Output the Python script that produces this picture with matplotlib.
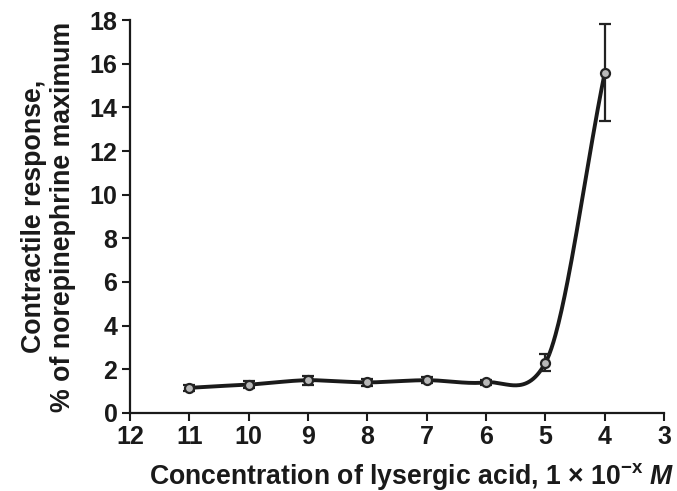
import numpy as np
import matplotlib
matplotlib.use("Agg")
import matplotlib.pyplot as plt

plt.rcParams['font.family'] = ['Liberation Sans', 'DejaVu Sans']
plt.rcParams['font.weight'] = 'bold'
plt.rcParams['mathtext.fontset'] = 'custom'
plt.rcParams['mathtext.rm'] = 'Liberation Sans:bold'
plt.rcParams['mathtext.it'] = 'Liberation Sans:bold:italic'
plt.rcParams['mathtext.bf'] = 'Liberation Sans:bold'

conc = [11, 10, 9, 8, 7, 6, 5, 4]
response = [1.15, 1.3, 1.5, 1.4, 1.5, 1.4, 2.3, 15.6]
errors = [0.15, 0.15, 0.2, 0.15, 0.15, 0.12, 0.4, 2.2]
xticks = [12, 11, 10, 9, 8, 7, 6, 5, 4, 3]
yticks = [0, 2, 4, 6, 8, 10, 12, 14, 16, 18]


def cardinal_spline(x, y, n_seg=60, tension=0.7):
    x = np.asarray(x, float); y = np.asarray(y, float)
    n = len(x)
    m = np.zeros(n)
    for i in range(n):
        if i == 0:
            m[i] = (y[1] - y[0]) / (x[1] - x[0])
        elif i == n - 1:
            m[i] = (y[-1] - y[-2]) / (x[-1] - x[-2])
        else:
            m[i] = tension * (y[i + 1] - y[i - 1]) / (x[i + 1] - x[i - 1])
    xs, ys = [], []
    for i in range(n - 1):
        h = x[i + 1] - x[i]
        t = np.linspace(0, 1, n_seg)
        h00 = 2 * t**3 - 3 * t**2 + 1
        h10 = t**3 - 2 * t**2 + t
        h01 = -2 * t**3 + 3 * t**2
        h11 = t**3 - t**2
        xs.append(x[i] + t * h)
        ys.append(h00 * y[i] + h10 * h * m[i] + h01 * y[i + 1] + h11 * h * m[i + 1])
    return np.concatenate(xs), np.concatenate(ys)

xx, yy = cardinal_spline(conc[::-1], response[::-1])

fig = plt.figure(figsize=(6.77, 4.91), dpi=100)
ax = fig.add_axes([0.192, 0.159, 0.789, 0.8])

ax.plot(xx, yy, color='#1a1a1a', lw=2.8, zorder=2, solid_capstyle='round')
ax.errorbar(conc, response, yerr=errors, fmt='none', ecolor='#222222',
            elinewidth=1.6, capsize=4.5, capthick=1.6, zorder=3)
ax.plot(conc, response, 'o', ms=6.5, mfc='#b8b8b8', mec='#222222', mew=1.6, zorder=4)

ax.set_xlim(12, 3)
ax.set_ylim(0, 18)
ax.set_xticks(xticks)
ax.set_yticks(yticks)
ax.spines['top'].set_visible(False)
ax.spines['right'].set_visible(False)
ax.spines['left'].set_linewidth(1.6)
ax.spines['bottom'].set_linewidth(1.6)
ax.spines['left'].set_color('#1a1a1a')
ax.spines['bottom'].set_color('#1a1a1a')
ax.tick_params(axis='both', direction='out', length=6, width=1.5, labelsize=18,
               pad=3, colors='#1a1a1a')
for lab in ax.get_xticklabels() + ax.get_yticklabels():
    lab.set_fontweight('bold')

ax.set_ylabel('Contractile response,\n% of norepinephrine maximum', fontsize=19.3,
              fontweight='bold', linespacing=1.15, labelpad=10, color='#1a1a1a')
ax.set_xlabel(r'Concentration of lysergic acid, 1 $\times$ 10$^{\mathbf{-x}}$ $\mathit{M}$',
              fontsize=19.2, fontweight='bold', labelpad=8, color='#1a1a1a')
ax.xaxis.label.set_x(0.528)

fig.savefig('out.png', dpi=100)
